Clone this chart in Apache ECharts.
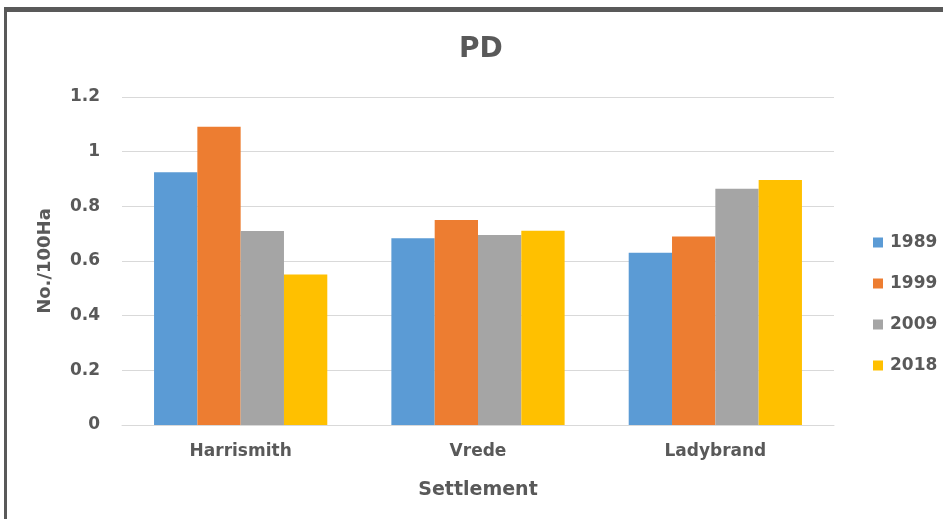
<!DOCTYPE html>
<html>
<head>
<meta charset="utf-8">
<script src="https://cdn.jsdelivr.net/npm/echarts@6/dist/echarts.min.js"></script>
<style>
  html, body { margin: 0; padding: 0; background: #fff; }
  #chart { width: 943px; height: 519px; }
</style>
</head>
<body>
<div id="chart"></div>
<script>
var categories = ['Harrismith', 'Vrede', 'Ladybrand'];
var years = ['1989', '1999', '2009', '2018'];
var v1989 = [0.925, 0.683, 0.630];
var v1999 = [1.091, 0.750, 0.690];
var v2009 = [0.710, 0.695, 0.864];
var v2018 = [0.551, 0.711, 0.896];
var yTicks = [0, 0.2, 0.4, 0.6, 0.8, 1, 1.2];

var colors = ['#5B9BD5', '#ED7D31', '#A5A5A5', '#FFC000'];
var allValues = [v1989, v1999, v2009, v2018];
var font = '"DejaVu Sans", sans-serif';

var chart = echarts.init(document.getElementById('chart'));

var series = years.map(function (y, i) {
    return {
        name: y,
        type: 'bar',
        data: allValues[i],
        barGap: '0%',
        barCategoryGap: '27%',
        itemStyle: { color: colors[i] }
    };
});

chart.setOption({
    animation: false,
    backgroundColor: '#fff',
    color: colors,
    title: {
        text: 'PD',
        left: 454,
        top: 31,
        textStyle: { fontFamily: font, fontSize: 28, fontWeight: 'bold', color: '#595959' }
    },
    graphic: [
        { type: 'rect', shape: { x: 4, y: 7, width: 939, height: 5 }, style: { fill: '#595959' } },
        { type: 'rect', shape: { x: 4, y: 7, width: 3, height: 512 }, style: { fill: '#595959' } }
    ],
    legend: {
        orient: 'vertical',
        left: 868,
        top: 229,
        itemWidth: 10,
        itemHeight: 10,
        itemGap: 24,
        icon: 'rect',
        data: years,
        textStyle: { fontFamily: font, fontSize: 17, fontWeight: 'bold', color: '#595959', padding: [0, 0, 0, 2] }
    },
    grid: {
        left: 122,
        right: 109,
        top: 97,
        bottom: 94,
        containLabel: false
    },
    xAxis: {
        type: 'category',
        data: categories,
        name: 'Settlement',
        nameLocation: 'middle',
        nameGap: 56,
        nameTextStyle: { fontFamily: font, fontSize: 19, fontWeight: 'bold', color: '#595959' },
        axisTick: { show: false },
        axisLine: { lineStyle: { color: '#D9D9D9', width: 1 } },
        axisLabel: { margin: 18, fontFamily: font, fontSize: 17, fontWeight: 'bold', color: '#595959' }
    },
    yAxis: {
        type: 'value',
        min: yTicks[0],
        max: yTicks[yTicks.length - 1],
        interval: 0.2,
        name: 'No./100Ha',
        nameLocation: 'middle',
        nameGap: 68,
        nameTextStyle: { fontFamily: font, fontSize: 18, fontWeight: 'bold', color: '#595959' },
        axisLine: { show: false },
        axisTick: { show: false },
        splitLine: { lineStyle: { color: '#D9D9D9', width: 1 } },
        axisLabel: {
            margin: 22,
            fontFamily: font, fontSize: 17, fontWeight: 'bold', color: '#595959',
            formatter: function (v) { return String(Math.round(v * 10) / 10); }
        }
    },
    series: series
});
</script>
</body>
</html>
